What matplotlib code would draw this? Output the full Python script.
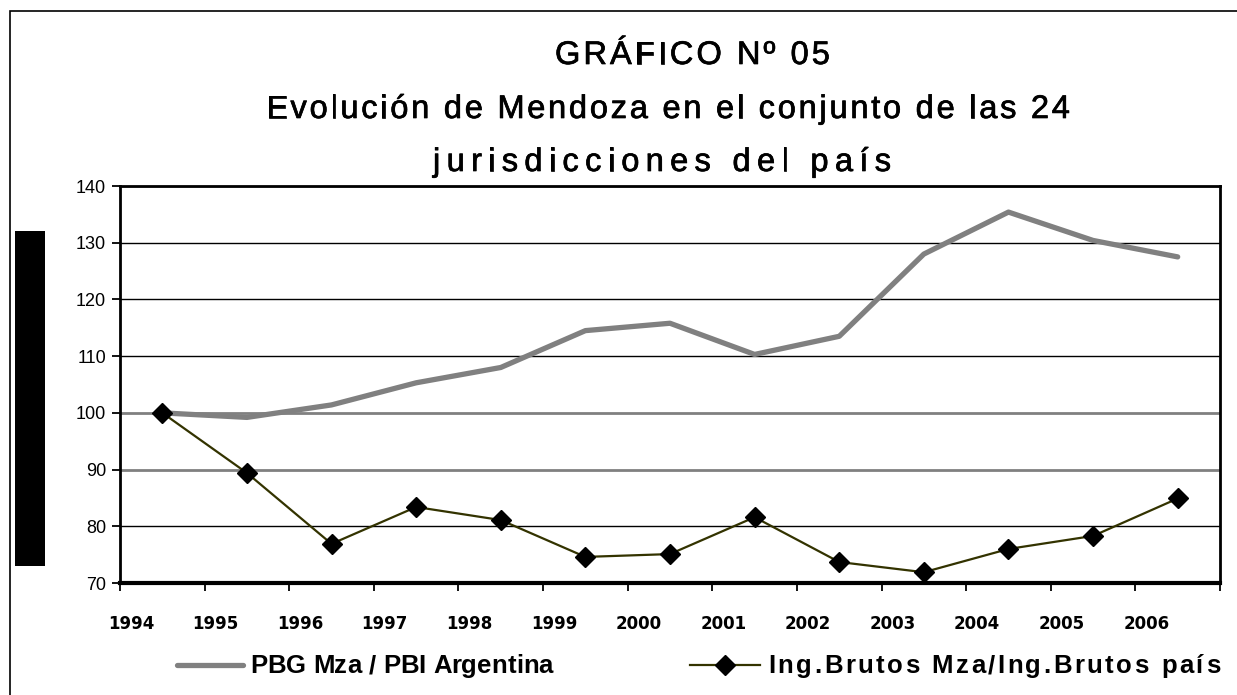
import matplotlib.pyplot as plt
import matplotlib.patheffects as pe
from matplotlib.patches import Rectangle
from matplotlib.lines import Line2D
from matplotlib.font_manager import FontProperties

# datos del gráfico
years = [str(y) for y in range(1994, 2007)]
pbg_pbi = [100.0, 99.2, 101.4, 105.3, 108.0, 114.5, 115.8, 110.3, 113.5, 128.0, 135.4, 130.4, 127.5]
ingbrutos = [100.0, 89.4, 76.9, 83.4, 81.1, 74.6, 75.1, 81.6, 73.7, 71.9, 76.0, 78.3, 84.9]
yticks = [70, 80, 90, 100, 110, 120, 130, 140]
title_lines = ["GRÁFICO Nº 05",
               "Evolución de Mendoza en el conjunto de las 24",
               "jurisdicciones del país"]
label_pbg = "PBG Mza / PBI Argentina"
label_ing = "Ing.Brutos Mza/Ing.Brutos país"

GRIS = "#808080"
OLIVA = "#333300"

W, H = 1237, 695
fig = plt.figure(figsize=(W / 100, H / 100), dpi=100)
ax = fig.add_axes([120 / W, 1 - 583 / H, 1100 / W, 397 / H])

x = list(range(len(years)))
ax.plot(x, pbg_pbi, color=GRIS, lw=3.8, solid_capstyle="round", solid_joinstyle="round", zorder=3)
ax.plot(x, ingbrutos, color=OLIVA, lw=1.6, marker="D", ms=10, mfc="black", mec="black", zorder=4)

# ejes
ax.set_xlim(-0.5, len(years) - 0.5)
ax.set_ylim(70, 140)
ax.set_xticks([i - 0.5 for i in range(len(years) + 1)])
ax.set_xticklabels([])
ax.set_xticks([i - 0.5 + 0.13 for i in range(len(years))], minor=True)
ax.set_xticklabels(years, minor=True, fontsize=12, fontweight="heavy", family="DejaVu Sans")
ax.tick_params(axis="x", which="major", direction="out", length=6, width=1.3)
ax.tick_params(axis="x", which="minor", length=0, pad=23)
ax.set_yticks(yticks)
ax.tick_params(axis="y", direction="out", length=6, width=1.3, labelsize=13, pad=4)
for lab in ax.get_yticklabels():
    lab.set_family("Liberation Sans")

ax.yaxis.grid(True, color="black", lw=1)
ax.set_axisbelow(True)
for gl, v in zip(ax.get_ygridlines(), yticks):
    if v in (90, 100):
        gl.set_color(GRIS)
        gl.set_linewidth(2)

for s in ax.spines.values():
    s.set_linewidth(2)
ax.spines["bottom"].set_linewidth(3)


# texto con letras espaciadas (ancho fijo en píxeles)
def spaced_text(text, x_left, yb, width_px, size, weight="normal", stroke=0.0):
    r = fig.canvas.get_renderer()
    prop = FontProperties(family="Liberation Sans", size=size, weight=weight)

    def tw(s):
        return r.get_text_width_height_descent(s, prop, ismath=False)[0]

    base = tw("aa")
    adv = [tw("a" + c + "a") - base for c in text]
    gap = (width_px - sum(adv)) / (len(text) - 1)
    x0 = x_left
    for c, a in zip(text, adv):
        t = fig.text(x0 / W, 1 - yb / H, c, fontproperties=prop, ha="left", va="baseline")
        if stroke:
            t.set_path_effects([pe.withStroke(linewidth=stroke, foreground="black")])
        x0 += a + gap


# títulos: (izquierda, línea base, ancho) en píxeles
for txt, xl, yb, wpx in zip(title_lines, [555, 266, 433], [64, 118, 171], [275, 804, 458]):
    spaced_text(txt, xl, yb, wpx, 23.5, stroke=0.5)

# leyenda (dibujada a mano)
ly = 665
fig.add_artist(Line2D([177 / W, 243 / W], [1 - ly / H] * 2, transform=fig.transFigure,
                      color=GRIS, lw=3.8, solid_capstyle="round"))
spaced_text(label_pbg, 250, 673, 303, 18.5, weight="bold")
fig.add_artist(Line2D([690 / W, 760 / W], [1 - ly / H] * 2, transform=fig.transFigure,
                      color=OLIVA, lw=1.6))
fig.add_artist(Line2D([725 / W], [1 - ly / H], transform=fig.transFigure,
                      marker="D", ms=10, mfc="black", mec="black", ls="none"))
spaced_text(label_ing, 768, 673, 452, 18.5, weight="bold")

# marco y barra negra
fig.add_artist(Rectangle((10 / W, -0.05), 1.2, 1.05 - 11 / H, transform=fig.transFigure,
                         fill=False, ec="black", lw=1.2))
fig.add_artist(Rectangle((15 / W, 1 - 566 / H), 30 / W, 335 / H, transform=fig.transFigure,
                         fc="black", ec="none"))

fig.savefig("out.png", dpi=100)
